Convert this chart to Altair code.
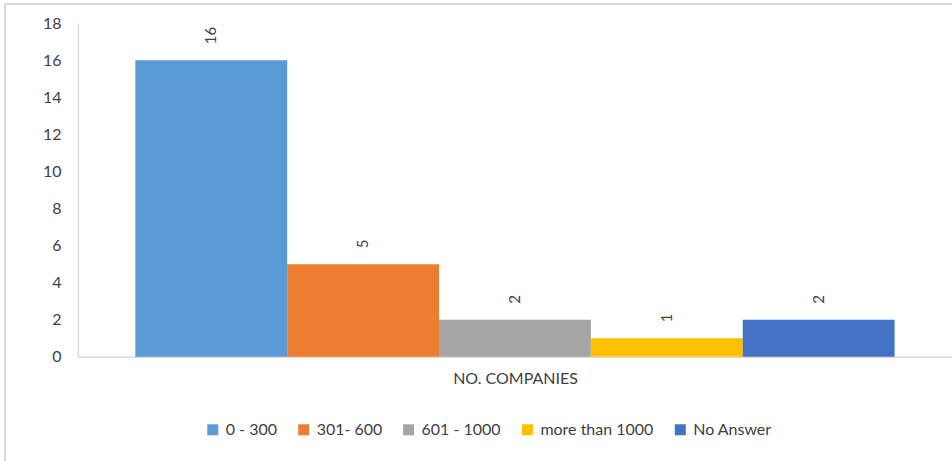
import altair as alt
import pandas as pd

categories = ["0 - 300", "301- 600", "601 - 1000", "more than 1000", "No Answer"]
values = [16, 5, 2, 1, 2]
colors = ["#5B9BD5", "#ED7D31", "#A5A5A5", "#FFC000", "#4472C4"]
y_ticks = [0, 2, 4, 6, 8, 10, 12, 14, 16, 18]
x_title = "NO. COMPANIES"

df = pd.DataFrame({"series": categories, "value": values})

FONT = "Lato"
W, H = 875, 334

y_axis = alt.Axis(
    values=y_ticks, title=None, ticks=False, grid=False,
    labelOverlap=False, labelFont=FONT, labelFontSize=16,
    labelColor="#404040", labelPadding=17,
    domainColor="#d9d9d9", domainWidth=1.5,
)
x_axis = alt.Axis(
    labels=False, ticks=False, title=x_title, titleFont=FONT,
    titleFontSize=16, titleFontWeight="normal", titleColor="#404040",
    titlePadding=14, domainColor="#d9d9d9", domainWidth=1.5,
)
x_scale = alt.Scale(paddingInner=0, paddingOuter=0.378)
y_scale = alt.Scale(domain=[0, 18], nice=False)

bars = alt.Chart(df).mark_bar().encode(
    x=alt.X("series:N", sort=categories, scale=x_scale, axis=x_axis),
    y=alt.Y("value:Q", scale=y_scale, axis=y_axis),
    color=alt.Color(
        "series:N",
        sort=categories,
        scale=alt.Scale(domain=categories, range=colors),
        legend=alt.Legend(
            title=None, orient="none", direction="horizontal",
            legendX=127, legendY=399, symbolType="square", symbolSize=121,
            symbolStrokeWidth=0, labelFont=FONT, labelFontSize=16,
            labelColor="#404040", columnPadding=18, labelOffset=5,
        ),
    ),
)

labels = alt.Chart(df).mark_text(
    angle=270, align="left", baseline="middle", dx=16,
    font=FONT, fontSize=15, color="#404040",
).encode(
    x=alt.X("series:N", sort=categories, scale=x_scale, axis=x_axis),
    y=alt.Y("value:Q", scale=y_scale, axis=y_axis),
    text=alt.Text("value:Q"),
)

border_top = alt.Chart(df).mark_rule(color="#d9d9d9", strokeWidth=1.5).encode(
    x=alt.value(-73), x2=alt.value(W + 100), y=alt.value(-19)
)
border_left = alt.Chart(df).mark_rule(color="#d9d9d9", strokeWidth=1.5).encode(
    x=alt.value(-73), y=alt.value(-19), y2=alt.value(H + 200)
)

chart = alt.layer(bars, labels, border_top, border_left).properties(
    width=W, height=H,
    autosize=alt.AutoSizeParams(type="none"),
    padding={"left": 78, "top": 23, "right": 0, "bottom": 104},
).configure_view(stroke=None).configure_axis(labelOverlap=False)

chart.save("out.html", embed_options={"renderer": "svg", "actions": False})
